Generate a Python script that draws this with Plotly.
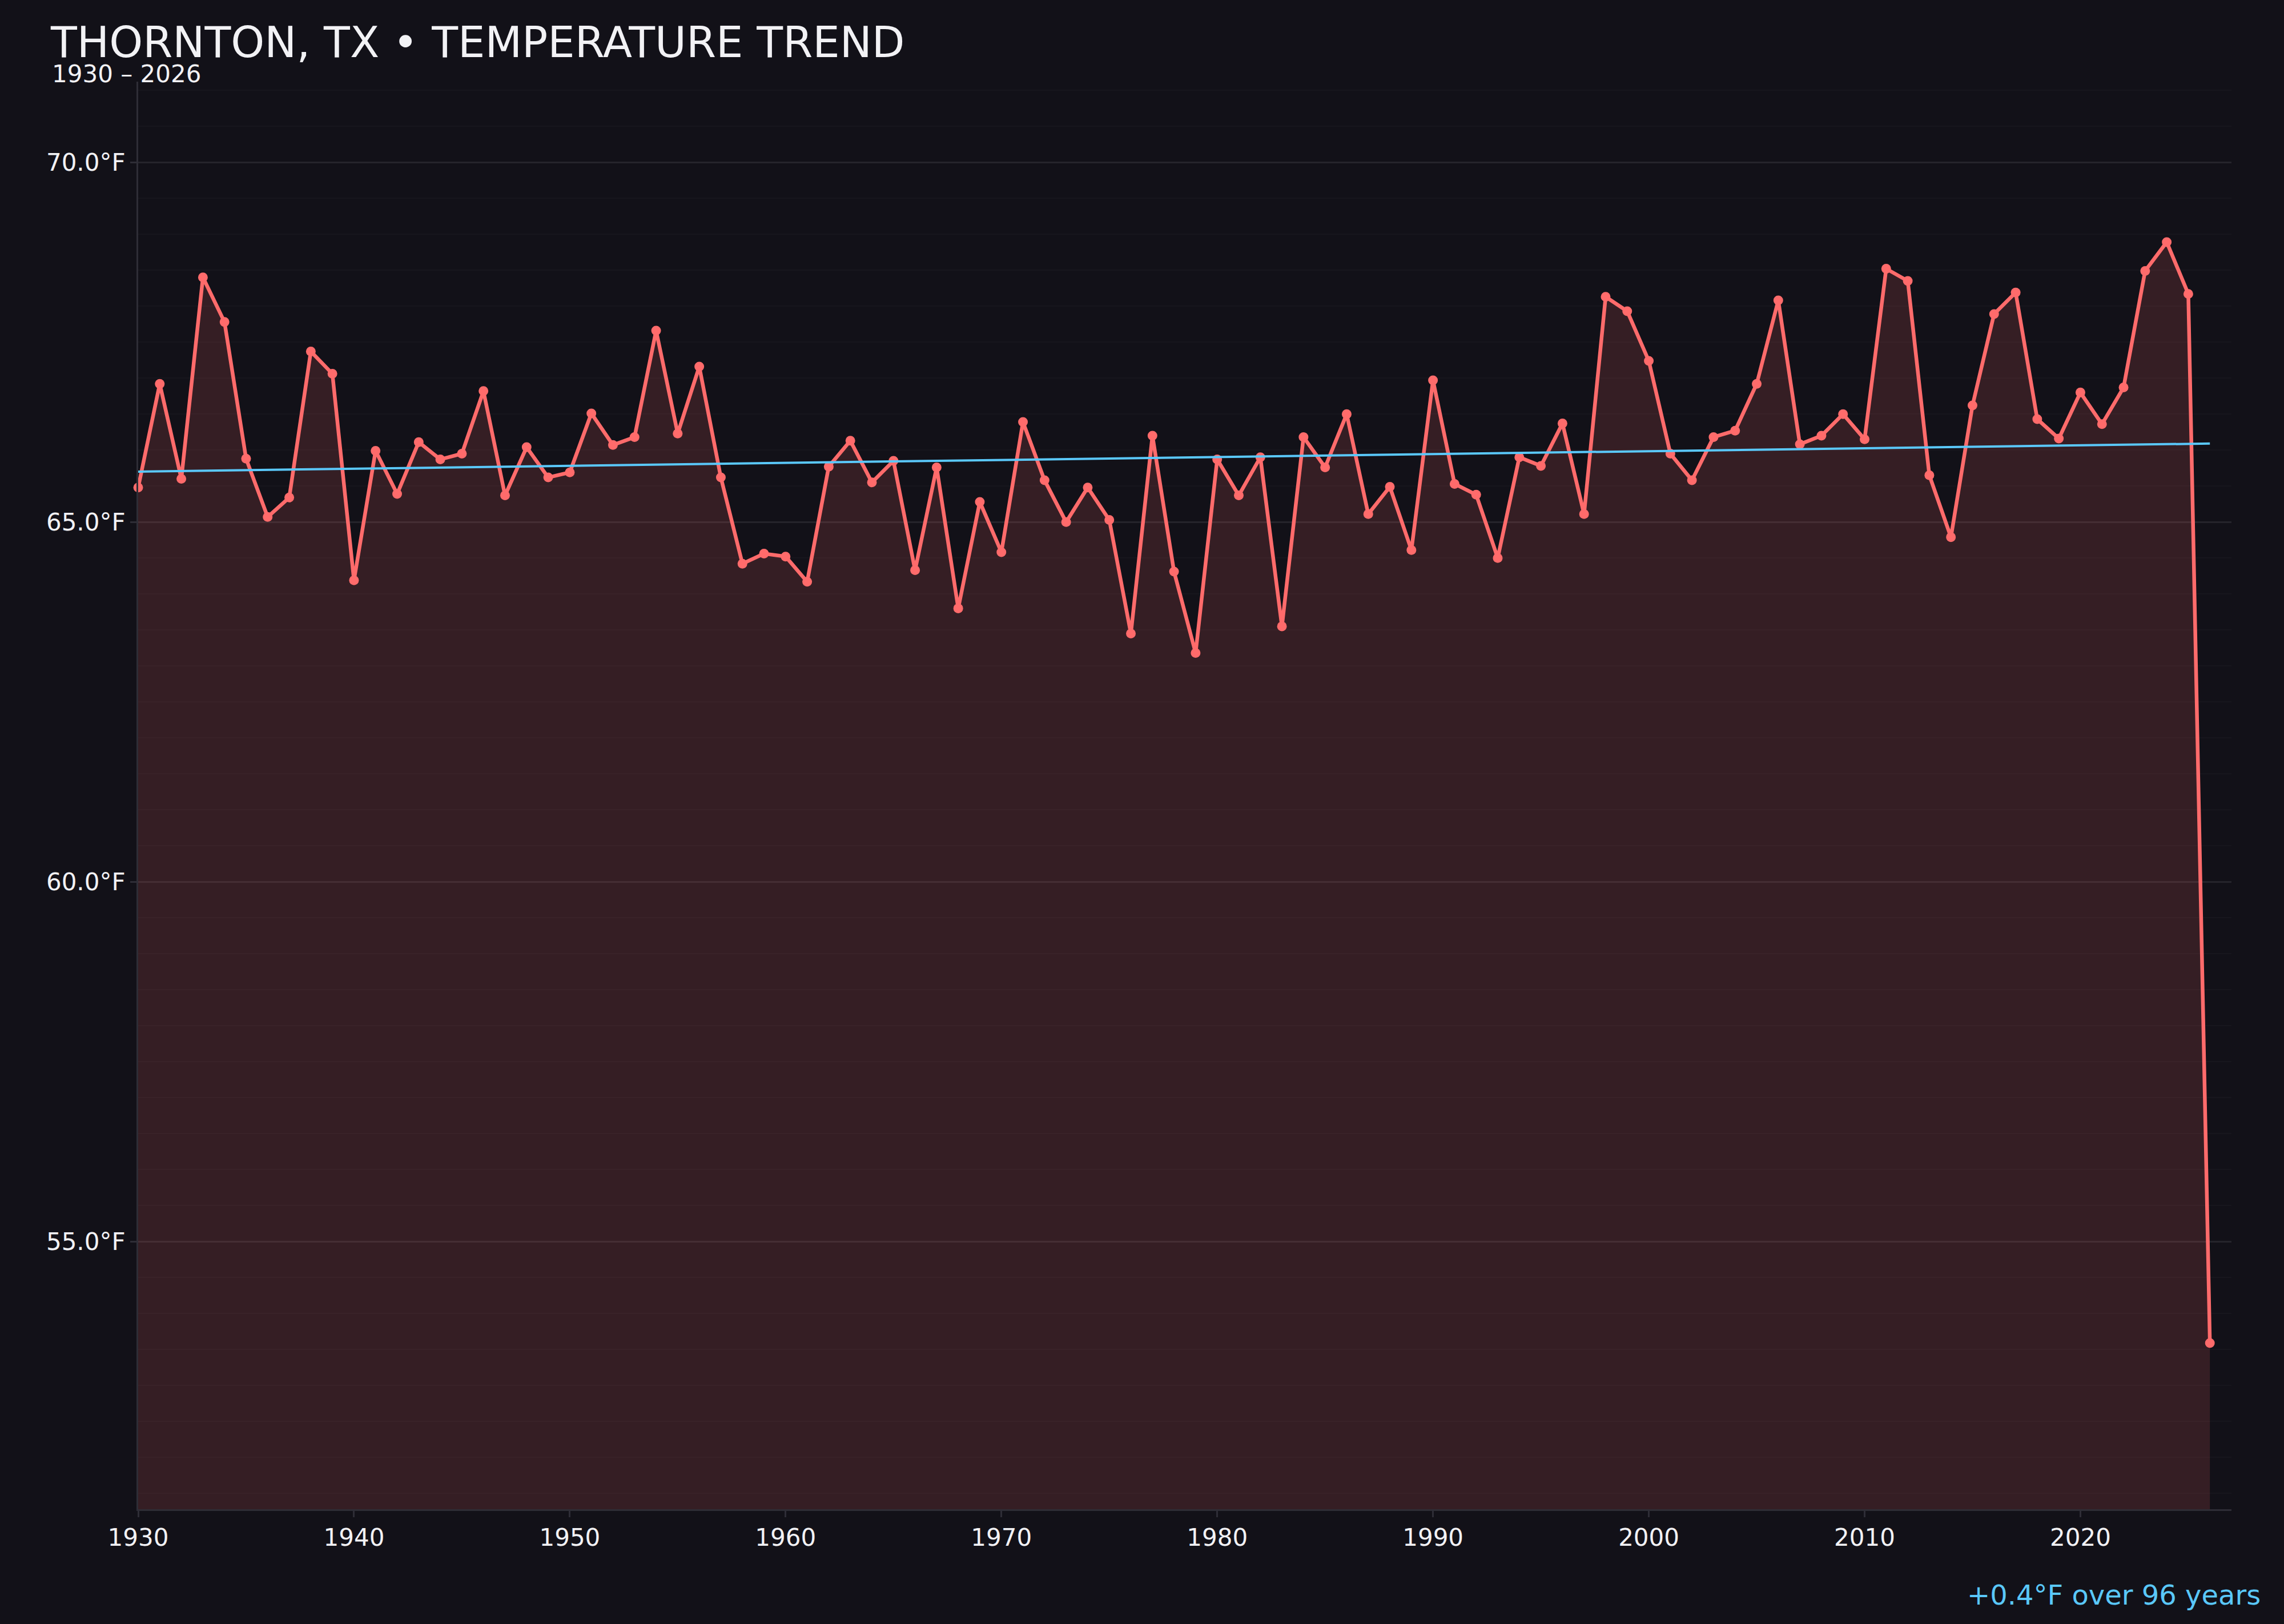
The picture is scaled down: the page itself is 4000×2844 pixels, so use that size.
import plotly.graph_objects as go

# Annual mean temperatures, Thornton TX
years = list(range(1930, 2027))
temps = [
    65.48, 66.92, 65.60, 68.40, 67.78, 65.88, 65.07, 65.34, 67.37, 67.06,  # 1930s
    64.19, 65.99, 65.39, 66.11, 65.87, 65.95, 66.82, 65.37, 66.04, 65.62,  # 1940s
    65.69, 66.51, 66.07, 66.18, 67.66, 66.23, 67.16, 65.62, 64.42, 64.56,  # 1950s
    64.52, 64.17, 65.77, 66.13, 65.55, 65.85, 64.33, 65.76, 63.80, 65.28,  # 1960s
    64.58, 66.39, 65.58, 65.00, 65.48, 65.03, 63.45, 66.20, 64.31, 63.18,  # 1970s
    65.87, 65.37, 65.90, 63.55, 66.18, 65.76, 66.50, 65.11, 65.49, 64.61,  # 1980s
    66.97, 65.53, 65.38, 64.50, 65.90, 65.78, 66.37, 65.11, 68.13, 67.93,  # 1990s
    67.24, 65.95, 65.58, 66.18, 66.27, 66.92, 68.08, 66.08, 66.20, 66.50,  # 2000s
    66.15, 68.52, 68.35, 65.65, 64.79, 66.62, 67.89, 68.19, 66.43, 66.16,  # 2010s
    66.80, 66.36, 66.87, 68.49, 68.89, 68.17, 53.59,                       # 2020s
]

# Linear trend end points
trend_years = [1930, 2026]
trend_temps = [65.70, 66.09]

title_text = "THORNTON, TX • TEMPERATURE TREND"
subtitle_text = "1930 – 2026"
trend_note = "+0.4°F over 96 years"

BG = "#121118"
LINE = "#ff6b6b"
TREND = "#5ac8fa"
TEXT = "#f2f2f5"
AXIS = "#2e2d36"
FONT = "DejaVu Sans"

fig = go.Figure()

fig.add_trace(go.Scatter(
    x=years,
    y=temps,
    mode="lines+markers",
    line=dict(color=LINE, width=6.5),
    marker=dict(color=LINE, size=17),
    fill="tozeroy",
    fillcolor="rgba(255,107,107,0.15)",
    cliponaxis=False,
    hoverinfo="x+y",
))

fig.add_trace(go.Scatter(
    x=trend_years,
    y=trend_temps,
    mode="lines",
    line=dict(color=TREND, width=4),
    hoverinfo="skip",
))

fig.update_layout(
    width=4000,
    height=2844,
    showlegend=False,
    paper_bgcolor=BG,
    plot_bgcolor=BG,
    margin=dict(l=242, r=92, t=143, b=201),
    font=dict(family=FONT, color=TEXT, size=42),
    title=dict(
        text=title_text,
        font=dict(family=FONT, size=75, color=TEXT),
        xref="container", yref="container",
        x=89 / 4000, xanchor="left",
        y=1 - 47 / 2844, yanchor="top",
    ),
    xaxis=dict(
        range=[1930, 2027],
        tickmode="linear", tick0=1930, dtick=10,
        showgrid=False,
        zeroline=False,
        showline=True, linecolor=AXIS, linewidth=3,
        ticks="outside", ticklen=11, tickwidth=3, tickcolor=AXIS,
        tickfont=dict(family=FONT, size=42, color=TEXT),
    ),
    yaxis=dict(
        range=[51.28, 71.12],
        tickmode="linear", tick0=55, dtick=5,
        tickformat=".1f", ticksuffix="°F",
        showgrid=True, gridcolor="#25242b", gridwidth=3,
        minor=dict(dtick=0.5, showgrid=True, gridcolor="#17161d", gridwidth=2),
        zeroline=False,
        showline=True, linecolor=AXIS, linewidth=3,
        ticks="outside", ticklen=11, tickwidth=3, tickcolor=AXIS,
        tickfont=dict(family=FONT, size=42, color=TEXT),
    ),
    annotations=[
        dict(
            text=subtitle_text,
            xref="paper", yref="paper",
            x=(89 - 242) / 3666, xanchor="left",
            y=0.995, yanchor="bottom",
            showarrow=False,
            font=dict(family=FONT, size=42, color=TEXT),
        ),
        dict(
            text=trend_note,
            xref="paper", yref="paper",
            x=(3961 - 242) / 3666, xanchor="right",
            y=-0.072, yanchor="bottom",
            showarrow=False,
            font=dict(family=FONT, size=48, color=TREND),
        ),
    ],
)

# drop the default page margin so the chart fills the window edge to edge
fig.write_html(
    "out.html",
    config={"displayModeBar": False},
    post_script="document.body.style.margin='0';document.body.style.overflow='hidden';",
)
